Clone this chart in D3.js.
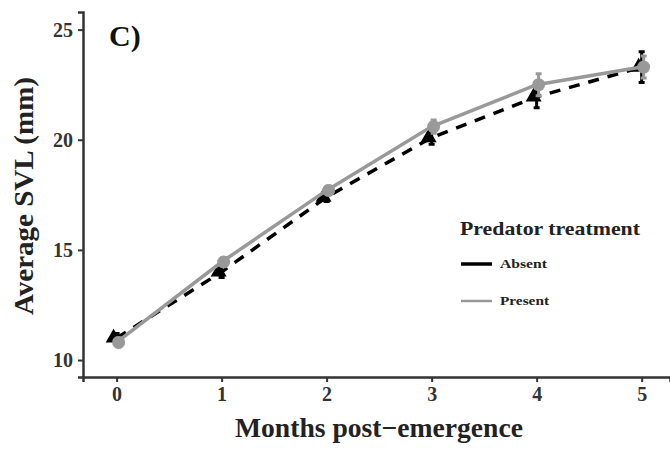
<!DOCTYPE html>
<html>
<head>
<meta charset="utf-8">
<script src="https://cdn.jsdelivr.net/npm/d3@7"></script>
<style>
  body { margin: 0; background: #fff; }
  text { font-family: "Liberation Serif", "Times New Roman", serif; font-weight: bold; }
</style>
</head>
<body>
<svg id="chart" width="670" height="454"></svg>
<script>
// data
var months = [0, 1, 2, 3, 4, 5];
var absentMean = [11.0, 14.0, 17.4, 20.1, 21.95, 23.3];
var absentErr  = [0.2, 0.25, 0.2, 0.3, 0.5, 0.7];
var presentMean = [10.8, 14.45, 17.7, 20.6, 22.5, 23.3];
var presentErr  = [0.2, 0.2, 0.2, 0.3, 0.5, 0.5];
var yTicks = [10, 15, 20, 25];
var xTicks = [0, 1, 2, 3, 4, 5];

var svg = d3.select('#chart');

var x = d3.scaleLinear().domain([-0.32, 5.27]).range([83, 670]);
var y = d3.scaleLinear().domain([9.23, 25.8]).range([377, 12]);

// axes
var xAxis = svg.append('g')
  .attr('transform', 'translate(0,377)')
  .call(d3.axisBottom(x).tickValues(xTicks).tickSize(5).tickPadding(5).tickFormat(d3.format('d')));
var yAxis = svg.append('g')
  .attr('transform', 'translate(83,0)')
  .call(d3.axisLeft(y).tickValues(yTicks).tickSize(5).tickPadding(5).tickFormat(d3.format('d')));

[xAxis, yAxis].forEach(function(a){
  a.select('.domain').attr('stroke', '#333').attr('stroke-width', 2.5);
  a.selectAll('.tick line').attr('stroke', '#333').attr('stroke-width', 2);
  a.selectAll('.tick text').attr('font-size', 20).attr('fill', '#333')
    .style('font-family', '"Liberation Serif", serif').style('font-weight', 'bold');
});

function series(mean, err) {
  return months.map(function(m, i){ return {m: m, v: mean[i], e: err[i]}; });
}
var absent = series(absentMean, absentErr);
var present = series(presentMean, presentErr);

var line = d3.line().x(function(d){ return x(d.m); }).y(function(d){ return y(d.v); });

// absent: black dashed with triangles
svg.append('path').datum(absent)
  .attr('d', line).attr('fill', 'none')
  .attr('stroke', '#000').attr('stroke-width', 3.5).attr('stroke-dasharray', '11,9');
svg.selectAll('.eb-a').data(absent).enter().append('path')
  .attr('d', function(d){
    var cx = x(d.m), w = 3;
    return 'M' + cx + ',' + y(d.v - d.e) + 'V' + y(d.v + d.e) +
      'M' + (cx - w) + ',' + y(d.v - d.e) + 'H' + (cx + w) +
      'M' + (cx - w) + ',' + y(d.v + d.e) + 'H' + (cx + w);
  })
  .attr('stroke', '#000').attr('stroke-width', 3).attr('fill', 'none');
svg.selectAll('.pt-a').data(absent).enter().append('path')
  .attr('transform', function(d){ return 'translate(' + (x(d.m) - 3) + ',' + y(d.v) + ')'; })
  .attr('d', d3.symbol().type(d3.symbolTriangle).size(110))
  .attr('fill', '#000');

// present: grey solid with circles
svg.append('path').datum(present)
  .attr('d', line).attr('fill', 'none')
  .attr('stroke', '#999').attr('stroke-width', 3.5);
svg.selectAll('.eb-p').data(present).enter().append('path')
  .attr('d', function(d){
    var cx = x(d.m) + 2, w = 3;
    return 'M' + cx + ',' + y(d.v - d.e) + 'V' + y(d.v + d.e) +
      'M' + (cx - w) + ',' + y(d.v - d.e) + 'H' + (cx + w) +
      'M' + (cx - w) + ',' + y(d.v + d.e) + 'H' + (cx + w);
  })
  .attr('stroke', '#999').attr('stroke-width', 3).attr('fill', 'none');
svg.selectAll('.pt-p').data(present).enter().append('circle')
  .attr('cx', function(d){ return x(d.m) + 2; })
  .attr('cy', function(d){ return y(d.v); })
  .attr('r', 6.5).attr('fill', '#999');

// labels
svg.append('text').attr('x', 109).attr('y', 46).attr('font-size', 30).attr('fill', '#111').text('C)');
svg.append('text')
  .attr('transform', 'translate(33,196) rotate(-90)')
  .attr('text-anchor', 'middle').attr('font-size', 28).attr('fill', '#222')
  .attr('textLength', 238).attr('lengthAdjust', 'spacingAndGlyphs')
  .text('Average SVL (mm)');
svg.append('text').attr('x', 379).attr('y', 437).attr('text-anchor', 'middle')
  .attr('font-size', 27).attr('fill', '#222')
  .attr('textLength', 288).attr('lengthAdjust', 'spacingAndGlyphs')
  .text('Months post\u2212emergence');

// legend
var legend = svg.append('g');
legend.append('text').attr('x', 460).attr('y', 235).attr('font-size', 19).attr('fill', '#222')
  .attr('textLength', 180).attr('lengthAdjust', 'spacingAndGlyphs').text('Predator treatment');
var items = [{name: 'Absent', color: '#000', w: 3.5, y: 264, len: 47}, {name: 'Present', color: '#999', w: 2.5, y: 301, len: 49}];
items.forEach(function(it){
  legend.append('line').attr('x1', 461).attr('x2', 492).attr('y1', it.y).attr('y2', it.y)
    .attr('stroke', it.color).attr('stroke-width', it.w);
  legend.append('text').attr('x', 500).attr('y', it.y + 4).attr('font-size', 12.5).attr('fill', '#222')
    .attr('textLength', it.len).attr('lengthAdjust', 'spacingAndGlyphs').text(it.name);
});
</script>
</body>
</html>
